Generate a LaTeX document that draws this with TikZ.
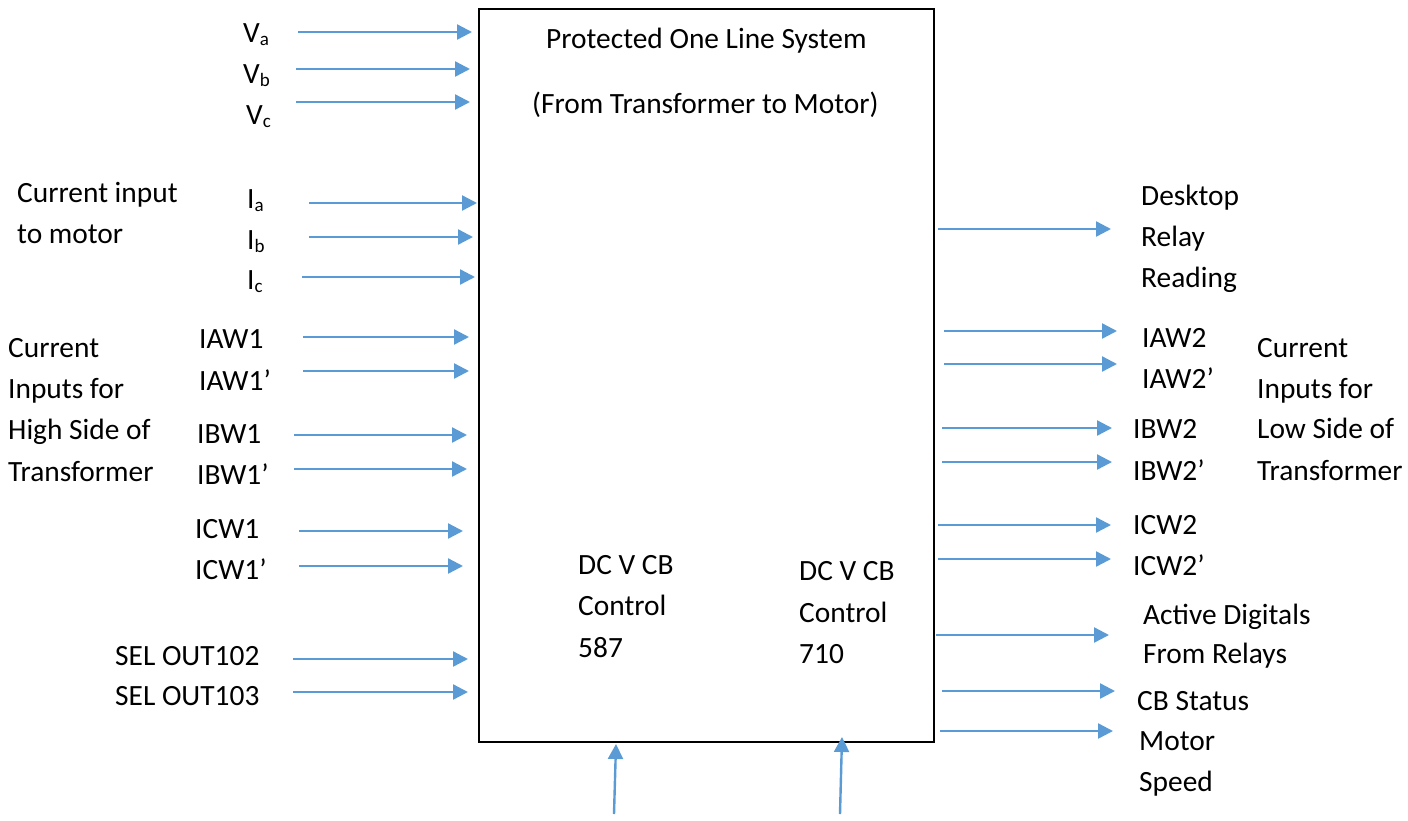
\documentclass[tikz,border=0pt]{standalone}
\usepackage{fontspec}
\setmainfont{Carlito}
\usetikzlibrary{arrows.meta}
\definecolor{wireblue}{HTML}{5B9BD5}
\newcommand{\sbs}[1]{\raisebox{-3.5pt}{\fontsize{19}{19}\selectfont #1}}
\begin{document}
\begin{tikzpicture}[x=1pt,y=-1pt,
  lbl/.style={anchor=base west,inner sep=0pt,font=\fontsize{29.4}{41}\selectfont},
  sysbox/.style={draw=black,line width=1.6pt,inner sep=0pt,anchor=north west},
  arr/.style={draw=wireblue,line width=2.4pt,-{Triangle[length=15pt,width=15pt]}}]
\useasboundingbox (0,0) rectangle (1408,820);

% central block
\node[sysbox,minimum width=455pt,minimum height=733pt] (sys) at (478,8) {};
\node[lbl] (t1) at (546,48) {Protected One Line System};
\node[lbl] (t2) at (532,113) {(From Transformer to Motor)};
\node[lbl] (dca1) at (578,574) {DC V CB};
\node[lbl] (dca2) at (578,615) {Control};
\node[lbl] (dca3) at (578,657) {587};
\node[lbl] (dcb1) at (799,580) {DC V CB};
\node[lbl] (dcb2) at (799,622) {Control};
\node[lbl] (dcb3) at (799,663) {710};

% left-hand labels
\node[lbl] (va) at (243,42) {V\sbs{a}};
\node[lbl] (vb) at (243,83) {V\sbs{b}};
\node[lbl] (vc) at (246,124) {V\sbs{c}};
\node[lbl] (cm1) at (17,202) {Current input};
\node[lbl] (cm2) at (17,243) {to motor};
\node[lbl] (ia) at (247,208) {I\sbs{a}};
\node[lbl] (ib) at (247,249) {I\sbs{b}};
\node[lbl] (ic) at (247,289) {I\sbs{c}};
\node[lbl] (hs1) at (8,357) {Current};
\node[lbl] (hs2) at (8,398) {Inputs for};
\node[lbl] (hs3) at (8,439) {High Side of};
\node[lbl] (hs4) at (8,481) {Transformer};
\node[lbl] (iaw1) at (199,348) {IAW1};
\node[lbl] (iaw1p) at (199,390) {IAW1’};
\node[lbl] (ibw1) at (197,443) {IBW1};
\node[lbl] (ibw1p) at (197,484) {IBW1’};
\node[lbl] (icw1) at (195,538) {ICW1};
\node[lbl] (icw1p) at (195,579) {ICW1’};
\node[lbl] (sel2) at (115,665) {SEL OUT102};
\node[lbl] (sel3) at (115,705) {SEL OUT103};

% right-hand labels
\node[lbl] (dr1) at (1141,205) {Desktop};
\node[lbl] (dr2) at (1141,246) {Relay};
\node[lbl] (dr3) at (1141,287) {Reading};
\node[lbl] (iaw2) at (1142,347) {IAW2};
\node[lbl] (iaw2p) at (1142,388) {IAW2’};
\node[lbl] (ibw2) at (1133,438) {IBW2};
\node[lbl] (ibw2p) at (1133,480) {IBW2’};
\node[lbl] (icw2) at (1133,534) {ICW2};
\node[lbl] (icw2p) at (1133,575) {ICW2’};
\node[lbl] (ls1) at (1257,357) {Current};
\node[lbl] (ls2) at (1257,398) {Inputs for};
\node[lbl] (ls3) at (1257,438) {Low Side of};
\node[lbl] (ls4) at (1257,480) {Transformer};
\node[lbl] (ad1) at (1143,624) {Active Digitals};
\node[lbl] (ad2) at (1143,663) {From Relays};
\node[lbl] (cbs) at (1137,710) {CB Status};
\node[lbl] (ms1) at (1139,750) {Motor};
\node[lbl] (ms2) at (1139,791) {Speed};

% signal arrows: name / tail x / head x / y
\foreach \n/\xa/\xb/\yy in {
  va/298/472/32, vb/296/470/69, vc/296/470/102,
  ia/309/477/203, ib/309/473/237, ic/302/475/277,
  iaw1/303/469/337, iaw1p/303/469/371, ibw1/294/467/435, ibw1p/294/467/469,
  icw1/299/463/531, icw1p/299/463/566, sel2/293/468/659, sel3/293/468/692,
  dr/938/1111/229, iaw2/944/1117/331, iaw2p/944/1117/364,
  ibw2/942/1112/428, ibw2p/942/1112/462, icw2/938/1111/525, icw2p/938/1111/559,
  ad/936/1109/635, cbs/942/1115/691, ms/940/1113/731} {
  \coordinate (\n-s) at (\xa,\yy);
  \coordinate (\n-e) at (\xb,\yy);
  \draw[arr] (\n-s) -- (\n-e);
}

% DC supply arrows from below
\coordinate (dca-s) at (614,814);
\coordinate (dca-e) at (616,744);
\coordinate (dcb-s) at (840,814);
\coordinate (dcb-e) at (842,737);
\draw[arr] (dca-s) -- (dca-e);
\draw[arr] (dcb-s) -- (dcb-e);
\end{tikzpicture}
\end{document}
